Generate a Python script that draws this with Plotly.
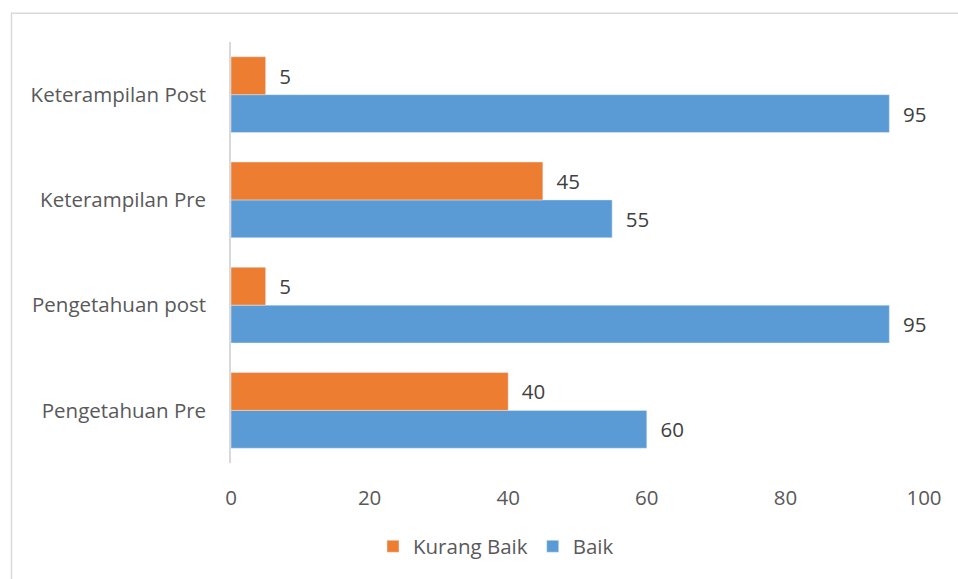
import plotly.graph_objects as go

categories = ["Pengetahuan Pre", "Pengetahuan post", "Keterampilan Pre", "Keterampilan Post"]
baik = [60, 95, 55, 95]
kurang_baik = [40, 5, 45, 5]
x_ticks = [0, 20, 40, 60, 80, 100]

ORANGE = "#ED7D31"
BLUE = "#5B9BD5"
FONT = "Open Sans"
FS = 20.5

fig = go.Figure()
fig.add_trace(go.Bar(
    y=categories, x=baik, name="Baik", orientation="h",
    marker=dict(color=BLUE), text=baik, texttemplate="  %{x}",
    textposition="outside", cliponaxis=False, legendrank=2,
    textfont=dict(family=FONT, size=FS, color="#404040"),
))
fig.add_trace(go.Bar(
    y=categories, x=kurang_baik, name="Kurang Baik", orientation="h",
    marker=dict(color=ORANGE), text=kurang_baik, texttemplate="  %{x}",
    textposition="outside", cliponaxis=False, legendrank=1,
    textfont=dict(family=FONT, size=FS, color="#404040"),
))

W, H = 958, 579
L, R, T, B = 231, 34, 42, 113
pw, ph = W - L - R, H - T - B

fig.update_layout(
    width=W, height=H,
    margin=dict(l=L, r=R, t=T, b=B),
    barmode="group", bargap=0.28, bargroupgap=0,
    plot_bgcolor="white", paper_bgcolor="white",
    font=dict(family=FONT, size=FS, color="#595959"),
    xaxis=dict(range=[0, 100], tickvals=x_ticks, showgrid=False, zeroline=False,
               showline=False, ticks="", ticklabelstandoff=20,
               tickfont=dict(family=FONT, size=FS, color="#595959")),
    yaxis=dict(showgrid=False, zeroline=False, showline=True, linecolor="#D9D9D9",
               linewidth=1.5, ticks="", ticklabelstandoff=19,
               tickfont=dict(family=FONT, size=FS, color="#595959")),
    legend=dict(orientation="h", x=(496 - L) / pw, xanchor="center",
                y=(T + ph - 550) / ph, yanchor="middle",
                font=dict(family=FONT, size=FS, color="#595959"),
                itemwidth=30, traceorder="normal"),
    shapes=[dict(type="rect", xref="paper", yref="paper",
                 x0=(11.5 - L) / pw, x1=1.2, y0=-0.5, y1=(T + ph - 13) / ph,
                 line=dict(color="#D9D9D9", width=1.5), fillcolor="rgba(0,0,0,0)",
                 layer="below")],
)

fig.write_html("out.html")
